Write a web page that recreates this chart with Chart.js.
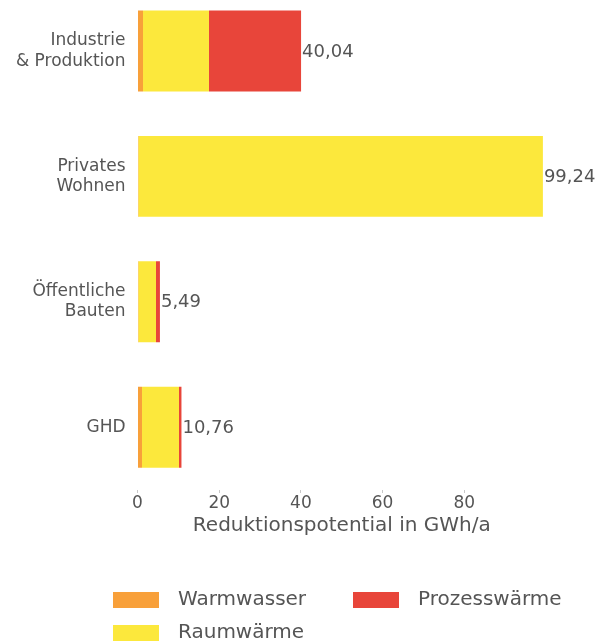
<!DOCTYPE html>
<html>
<head>
<meta charset="utf-8">
<script src="https://cdn.jsdelivr.net/npm/chart.js@4/dist/chart.umd.min.js"></script>
<style>
  html, body { margin: 0; padding: 0; background: #ffffff; }
  #wrap { position: relative; width: 607px; height: 644px; overflow: hidden; }
  #wrap canvas { position: absolute; left: 0; top: -34px; }
</style>
</head>
<body>
<div id="wrap"><canvas id="c" width="607" height="678"></canvas></div>
<script>
// ---- data ----
const categories = [["Industrie", "& Produktion"], ["Privates", "Wohnen"], ["Öffentliche", "Bauten"], "GHD"];
const seriesNames = ["Warmwasser", "Raumwärme", "Prozesswärme"];
const warmwasser   = [1.35, 0.2, 0.2, 1.1];
const raumwaerme   = [16.15, 99.04, 4.33, 9.06];
const prozesswaerme = [22.54, 0, 0.96, 0.6];
const totals = [40.04, 99.24, 5.49, 10.76];
const xTicks = [0, 20, 40, 60, 80];
const xTitle = "Reduktionspotential in GWh/a";

const colors = ["#F8A03A", "#FCE83C", "#E8453A"];
const FONT = "'DejaVu Sans', sans-serif";
const TXT = "#555555";
const SHIFT = 34; // canvas is shifted up by this many px

const totalLabels = {
  id: 'totalLabels',
  afterDatasetsDraw(chart) {
    const ctx = chart.ctx, xs = chart.scales.x, ys = chart.scales.y;
    ctx.save();
    ctx.font = "18px " + FONT;
    ctx.fillStyle = TXT;
    ctx.textAlign = 'left';
    ctx.textBaseline = 'middle';
    totals.forEach((t, i) => {
      const s = t.toLocaleString('de-DE', {minimumFractionDigits: 2, maximumFractionDigits: 2});
      ctx.fillText(s, xs.getPixelForValue(t) + 1, ys.getPixelForValue(i) + 1);
    });
    ctx.restore();
  }
};

const customLegend = {
  id: 'customLegend',
  afterDraw(chart) {
    const ctx = chart.ctx;
    const spots = [
      {x: 113, y: 592 + SHIFT},  // Warmwasser
      {x: 113, y: 625 + SHIFT},  // Raumwärme
      {x: 353, y: 592 + SHIFT}   // Prozesswärme
    ];
    ctx.save();
    ctx.font = "20px " + FONT;
    ctx.textBaseline = 'middle';
    ctx.textAlign = 'left';
    chart.data.datasets.forEach((ds, i) => {
      const p = spots[i];
      ctx.fillStyle = ds.backgroundColor;
      ctx.fillRect(p.x, p.y, 46, 16);
      ctx.fillStyle = TXT;
      ctx.fillText(ds.label, p.x + 65, p.y + 8);
    });
    ctx.restore();
  }
};

new Chart(document.getElementById('c'), {
  type: 'bar',
  data: {
    labels: categories,
    datasets: [
      { label: seriesNames[0], data: warmwasser, backgroundColor: colors[0] },
      { label: seriesNames[1], data: raumwaerme, backgroundColor: colors[1] },
      { label: seriesNames[2], data: prozesswaerme, backgroundColor: colors[2] }
    ]
  },
  options: {
    indexAxis: 'y',
    responsive: false,
    animation: false,
    devicePixelRatio: 1,
    layout: { padding: { left: 0, right: 61, top: 0, bottom: 102.6 } },
    datasets: { bar: { categoryPercentage: 1, barPercentage: 0.645, borderWidth: 0 } },
    plugins: {
      legend: { display: false },
      tooltip: { enabled: false }
    },
    scales: {
      x: {
        stacked: true,
        min: 0,
        max: 100,
        afterBuildTicks: (s) => { s.ticks = xTicks.map(v => ({ value: v })); },
        grid: { display: true, drawOnChartArea: false, drawTicks: true, tickLength: 3, color: '#c8c8c8' },
        border: { display: false },
        ticks: { color: TXT, font: { family: FONT, size: 17 }, padding: 0, maxRotation: 0 },
        title: { display: true, text: xTitle, color: TXT, font: { family: FONT, size: 20 }, padding: { top: 0, bottom: 4 } }
      },
      y: {
        stacked: true,
        grid: { display: false, drawTicks: false, tickLength: 0 },
        border: { display: false },
        ticks: { color: TXT, font: { family: FONT, size: 17, lineHeight: 1.2 }, padding: 12 },
        afterFit: (s) => { s.width = 137.5; }
      }
    }
  },
  plugins: [totalLabels, customLegend]
});
</script>
</body>
</html>
